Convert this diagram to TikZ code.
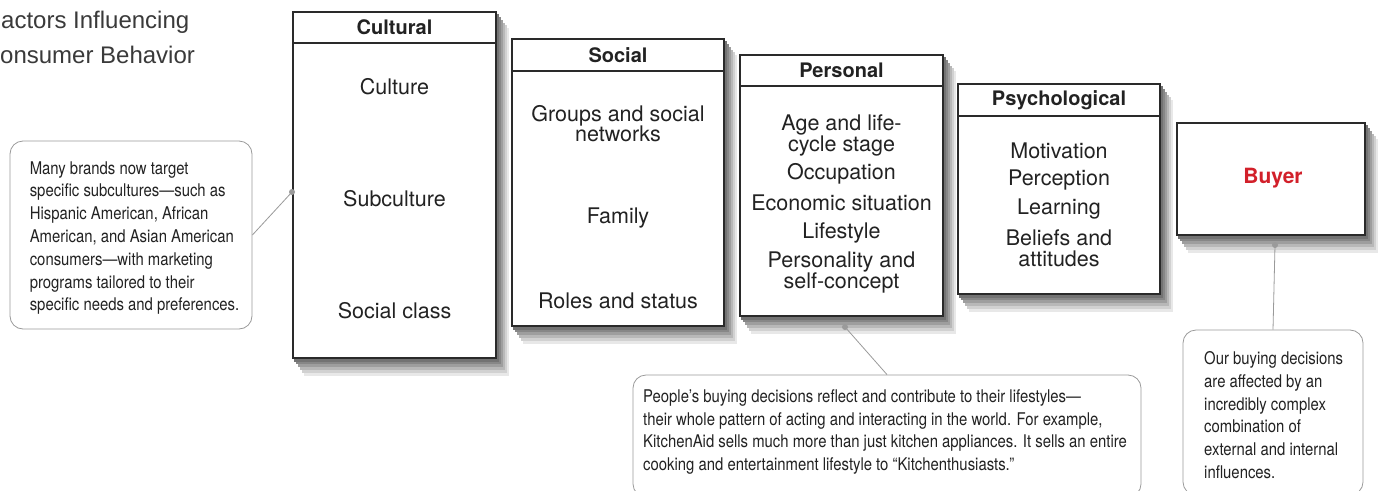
\documentclass[tikz,border=0pt]{standalone}
\usepackage{fontspec}
\setmainfont{TeX Gyre Heros}
\newfontfamily\condfont[FakeStretch=0.85,Ligatures=TeX]{TeX Gyre Heros}
\newfontfamily\titlefont{Liberation Sans}
\pgfdeclarelayer{bg}
\pgfsetlayers{bg,main}
\definecolor{boxline}{HTML}{2A2A2A}
\definecolor{txt}{HTML}{222222}
\definecolor{callgray}{HTML}{9A9A9A}
\definecolor{buyred}{HTML}{D2202A}
\definecolor{titlegray}{HTML}{3A3A3A}
\newcommand\myboxshadow[1]{%
  \begin{pgfonlayer}{bg}
    \foreach \s/\c in {12/9, 10/18, 8/28, 6/38, 4/47, 2/55}
      \fill[black!\c] ([xshift=\s pt, yshift=-1.4*\s pt]#1.south west) rectangle ([xshift=\s pt, yshift=-1.4*\s pt]#1.north east);
  \end{pgfonlayer}}
\tikzset{
  factor/.style={draw=boxline, line width=1.4pt, fill=white, rectangle, inner sep=0pt},
  header/.style={draw=boxline, line width=1.4pt, rectangle, inner sep=0pt, anchor=north,
    font=\fontsize{20}{22}\selectfont\bfseries, text=txt},
  item/.style={align=center, inner sep=0pt, text=txt, font=\fontsize{21.5}{20.5}\selectfont},
  callbox/.style={draw=callgray, line width=0.8pt, rounded corners=13pt, rectangle, inner sep=0pt},
  calltext/.style={align=left, inner sep=0pt, text=txt, anchor=west,
    font=\condfont\fontsize{17.5}{22.8}\selectfont},
  leader/.style={draw=callgray, line width=0.8pt},
  leaderdot/.style={fill=callgray, circle, inner sep=0pt, minimum size=6pt},
  titletext/.style={anchor=base west, inner sep=0pt, text=titlegray, font=\titlefont\fontsize{24}{35}\selectfont},
}
\begin{document}
\begin{tikzpicture}[x=1pt, y=-1pt]
\useasboundingbox (0,0) rectangle (1381,490);
\begin{pgfonlayer}{bg}
  \fill[white] (0,0) rectangle (1381,490);
\end{pgfonlayer}

% title (cut at the left edge)
\node[titletext] (title1) at (1,28) {actors Influencing};
\node[titletext] (title2) at (0,63) {onsumer Behavior};

% Cultural
\node[factor, minimum width=203pt, minimum height=346pt] (cul) at (394.5,185) {};
\myboxshadow{cul}
\node[header, minimum width=203pt, minimum height=31pt] (culh) at (cul.north) {Cultural};
\node[item] (cul1) at (394.5,87) {Culture};
\node[item] (cul2) at (394.5,199) {Subculture};
\node[item] (cul3) at (394.5,311) {Social class};

% Social
\node[factor, minimum width=212pt, minimum height=287pt] (soc) at (618,182.5) {};
\myboxshadow{soc}
\node[header, minimum width=212pt, minimum height=32pt] (soch) at (soc.north) {Social};
\node[item] (soc1) at (618,123.5) {Groups and social\\networks};
\node[item] (soc2) at (618,218) {Family};
\node[item] (soc3) at (618,301) {Roles and status};

% Personal
\node[factor, minimum width=203pt, minimum height=261pt] (per) at (841.5,185.5) {};
\myboxshadow{per}
\node[header, minimum width=203pt, minimum height=31pt] (perh) at (per.north) {Personal};
\node[item] (per1) at (841.5,135.5) {Age and life-\\cycle stage};
\node[item] (per2) at (841.5,174) {Occupation};
\node[item] (per3) at (841.5,203) {Economic situation};
\node[item] (per4) at (841.5,233) {Lifestyle};
\node[item] (per5) at (841.5,272.5) {Personality and\\self-concept};

% Psychological
\node[factor, minimum width=202pt, minimum height=210pt] (psy) at (1059,189) {};
\myboxshadow{psy}
\node[header, minimum width=202pt, minimum height=32pt] (psyh) at (psy.north) {Psychological};
\node[item] (psy1) at (1059,151) {Motivation};
\node[item] (psy2) at (1059,180) {Perception};
\node[item] (psy3) at (1059,209) {Learning};
\node[item] (psy4) at (1059,248.5) {Beliefs and\\attitudes};

% Buyer
\node[factor, minimum width=188pt, minimum height=112pt] (buy) at (1271,179) {};
\myboxshadow{buy}
\node[inner sep=0pt, text=buyred, font=\fontsize{21}{24}\selectfont\bfseries] (buyt) at (1273,178) {Buyer};

% left callout
\node[callbox, minimum width=242pt, minimum height=188pt] (c1) at (131,235) {};
\node[calltext] (c1t) at ([xshift=20pt, yshift=-3pt]c1.west) {Many brands now target\\specific subcultures—such as\\Hispanic American, African\\American, and Asian American\\consumers—with marketing\\programs tailored to their\\specific needs and preferences.};
\coordinate (d1) at (292,192);
\draw[leader] (c1.east) -- (d1);
\node[leaderdot] (d1dot) at (d1) {};

% bottom callout
\node[callbox, minimum width=508pt, minimum height=122pt] (c2) at (887,436) {};
\node[calltext] (c2t) at (643,432) {People’s buying decisions reflect and contribute to their lifestyles—\\their whole pattern of acting and interacting in the world. For example,\\KitchenAid sells much more than just kitchen appliances. It sells an entire\\cooking and entertainment lifestyle to “Kitchenthusiasts.”};
\coordinate (d2) at (845,327);
\draw[leader] (c2.north) -- (d2);
\node[leaderdot] (d2dot) at (d2) {};

% right callout
\node[callbox, minimum width=180pt, minimum height=165pt] (c3) at (1273,412.5) {};
\node[calltext] (c3t) at (1204,415) {Our buying decisions\\are affected by an\\incredibly complex\\combination of\\external and internal\\influences.};
\coordinate (d3) at (1275,245);
\draw[leader] (c3.north) -- (d3);
\node[leaderdot] (d3dot) at (d3) {};
\end{tikzpicture}
\end{document}
